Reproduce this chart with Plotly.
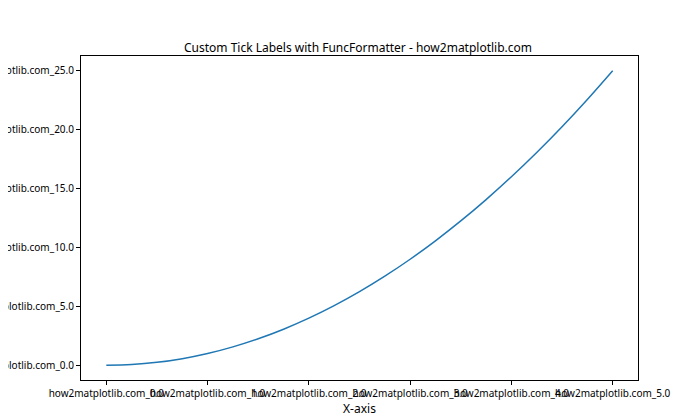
import plotly.graph_objects as go

x_vals = [0, 0.25, 0.5, 0.75, 1, 1.25, 1.5, 1.75, 2, 2.25, 2.5, 2.75, 3, 3.25, 3.5, 3.75, 4, 4.25, 4.5, 4.75, 5]
y_vals = [0, 0.0625, 0.25, 0.5625, 1, 1.5625, 2.25, 3.0625, 4, 5.0625, 6.25, 7.5625, 9, 10.5625, 12.25, 14.0625, 16, 18.0625, 20.25, 22.5625, 25]
x_ticks = [0, 1, 2, 3, 4, 5]
y_ticks = [0, 5, 10, 15, 20, 25]
x_labels = [f"how2matplotlib.com_{v:.1f}" for v in x_ticks]
y_labels = [f"how2matplotlib.com_{v:.1f}" for v in y_ticks]

fig = go.Figure(go.Scatter(x=x_vals, y=y_vals, mode="lines", line=dict(color="#1f77b4", width=1.5, shape="spline")))
axis = dict(showgrid=False, zeroline=False, showline=True, linecolor="black", linewidth=1,
            mirror=True, ticks="outside", ticklen=4, tickcolor="black", automargin=False)
fig.update_layout(
    width=700, height=420, template="none", showlegend=False,
    font=dict(family="Noto Sans", size=10, color="black"),
    title=dict(text="Custom Tick Labels with FuncFormatter - how2matplotlib.com", x=0.5, xanchor="center",
               y=0.905, yanchor="middle", font=dict(size=12)),
    margin=dict(l=73, r=70, t=48, b=48),
    plot_bgcolor="white", paper_bgcolor="white",
    xaxis=dict(axis, range=[-0.25, 5.25], tickvals=x_ticks, ticktext=x_labels, tickangle=0,
               title=dict(text="X-axis", standoff=2)),
    yaxis=dict(axis, range=[-1.25, 26.25], tickvals=y_ticks, ticktext=y_labels),
)
fig.write_html("out.html")
